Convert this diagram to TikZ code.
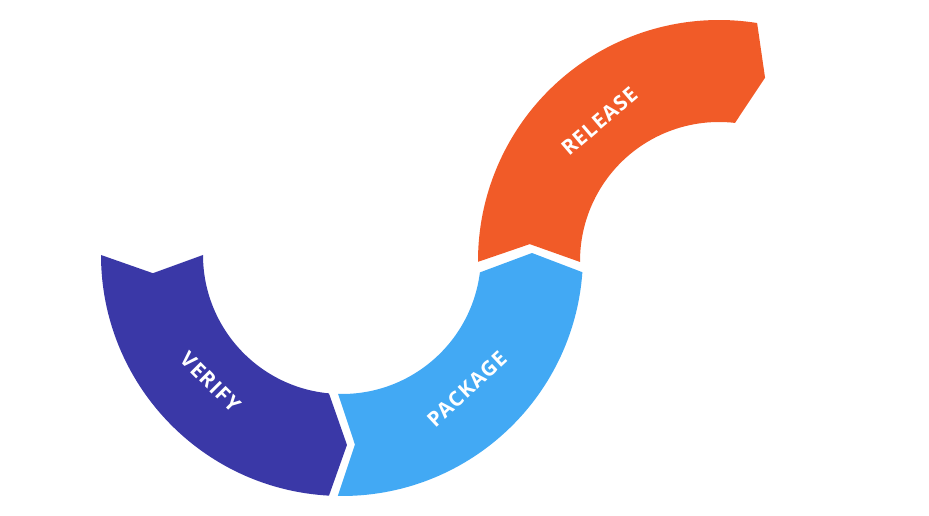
\documentclass[tikz,border=0pt]{standalone}
\usepackage{fontspec}
\newfontfamily\stagefont[LetterSpace=5]{Open Sans}
\usepackage{xcolor}
\definecolor{verifyblue}{HTML}{3A38A7}
\definecolor{packageblue}{HTML}{42A9F4}
\definecolor{releaseorange}{HTML}{F15B28}

\begin{document}
\begin{tikzpicture}[x=0.02cm, y=0.02cm, stage/.style={text=white, font=\stagefont\bfseries\fontsize{11.8}{14}\selectfont, inner sep=0pt}]
	\useasboundingbox (0,0) rectangle (929,516);
	% lower half ring: verify and package
	\begin{scope}[shift={(342,261)}]
		\fill[verifyblue] (180:241) arc[start angle=180, end angle=266.9, radius=241] -- (271.5:190) -- (264.6:139) arc[start angle=264.6, end angle=180, radius=139] -- (185.5:190) -- cycle;
		\fill[packageblue] (269:241) arc[start angle=269, end angle=355.9, radius=241] -- (0.6:190) -- (352.8:139) arc[start angle=352.8, end angle=268.4, radius=139] -- (273.9:190) -- cycle;
		\node[stage, rotate=-45] (verify) at (224:183) {VERIFY};
		\node[stage, rotate=43] (package) at (313:183) {PACKAGE};
	\end{scope}
	% upper ring: release
	\begin{scope}[shift={(719,255)}]
		\fill[releaseorange] (180.2:241) arc[start angle=180.2, end angle=80.9, radius=241] -- (75.9:189) -- (83.4:139) arc[start angle=83.4, end angle=180.4, radius=139] -- (174.9:190) -- cycle;
		\node[stage, rotate=40.5] (release) at (130.6:184) {RELEASE};
	\end{scope}
\end{tikzpicture}
\end{document}
